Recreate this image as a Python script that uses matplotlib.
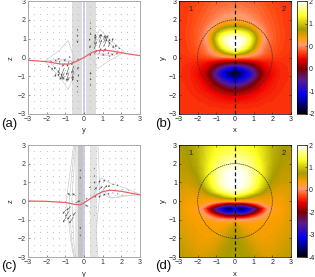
import numpy as np
import matplotlib
matplotlib.use("Agg")
import matplotlib.pyplot as plt
from matplotlib.cm import ScalarMappable
from matplotlib.colors import LinearSegmentedColormap, Normalize
from matplotlib.patches import Circle

W, H = 315, 277

# half of the map, mirrored in x later
half_x = [0, .25, .5, .75, 1, 1.25, 1.5, 1.75, 2, 2.5, 3]

b_y = [3, 2.5, 2, 1.75, 1.5, 1.25, 1, .75, .5, .25, 0, -.25, -.5, -.75, -1, -1.25, -1.5, -1.75, -2, -2.5, -3]
b_vals = [
    [.28, .28, .27, .26, .25, .24, .22, .20, .18, .14, .12],
    [.36, .36, .34, .32, .30, .28, .25, .22, .20, .15, .12],
    [.50, .50, .48, .42, .38, .33, .28, .25, .22, .16, .12],
    [.75, .75, .7, .58, .47, .38, .32, .26, .23, .16, .12],
    [1.2, 1.18, 1.1, .95, .75, .5, .38, .28, .24, .17, .12],
    [1.7, 1.65, 1.55, 1.35, 1.05, .7, .42, .3, .25, .17, .12],
    [2, 1.95, 1.85, 1.6, 1.2, .8, .45, .32, .25, .17, .12],
    [2, 1.95, 1.8, 1.5, 1.1, .72, .42, .3, .24, .16, .12],
    [1.95, 1.75, 1.55, 1.25, .9, .55, .36, .27, .22, .16, .12],
    [1.3, 1.15, 1, .75, .55, .4, .3, .24, .2, .14, .12],
    [.3, .3, .28, .26, .24, .22, .18, .16, .14, .12, .11],
    [-.45, -.42, -.4, -.3, -.2, -.12, -.03, .02, .05, .09, .11],
    [-1.2, -1.1, -.98, -.82, -.62, -.38, -.16, -.05, .01, .08, .1],
    [-1.9, -1.75, -1.5, -1.2, -.9, -.6, -.3, -.12, -.02, .07, .1],
    [-1.85, -1.7, -1.45, -1.2, -.9, -.6, -.3, -.12, -.02, .07, .1],
    [-1.3, -1.2, -1.08, -.9, -.65, -.4, -.18, -.06, .01, .08, .1],
    [-.85, -.8, -.7, -.55, -.38, -.22, -.08, -.01, .03, .09, .1],
    [-.5, -.45, -.38, -.28, -.18, -.08, -.02, .02, .05, .09, .11],
    [-.12, -.12, -.1, -.06, -.03, .01, .04, .06, .07, .1, .11],
    [.06, .06, .07, .07, .08, .08, .09, .1, .1, .11, .12],
    [.12, .12, .12, .12, .12, .12, .12, .12, .12, .12, .12],
]

d_y = [3, 2.5, 2, 1.5, 1, .75, .5, .25, 0, -.2, -.4, -.6, -.8, -1, -1.25, -1.5, -2, -2.5, -3]
d_vals = [
    [1.25, 1.25, 1.22, 1.18, 1.12, 1.05, .92, .78, .64, .5, .42],
    [1.45, 1.45, 1.42, 1.35, 1.25, 1.12, .98, .8, .64, .47, .4],
    [1.75, 1.72, 1.65, 1.55, 1.4, 1.22, 1.02, .8, .6, .43, .38],
    [2, 1.95, 1.88, 1.75, 1.55, 1.3, 1.05, .76, .52, .37, .34],
    [2, 1.98, 1.9, 1.75, 1.5, 1.22, .92, .62, .4, .28, .28],
    [1.95, 1.9, 1.8, 1.62, 1.38, 1.1, .78, .48, .3, .2, .24],
    [1.75, 1.65, 1.5, 1.3, 1.05, .75, .48, .3, .2, .14, .2],
    [1.1, .95, .8, .55, .35, .22, .16, .12, .1, .08, .18],
    [-.3, -.25, -.2, -.15, -.1, -.05, 0, .03, .05, .06, .16],
    [-1.8, -2.2, -2, -1.6, -1.2, -.8, -.4, -.15, -.05, .04, .15],
    [-3.1, -3.95, -3.6, -3, -2.5, -1.8, -1.1, -.5, -.15, .02, .15],
    [-2.6, -3.1, -3, -2.5, -2, -1.4, -.8, -.35, -.1, .03, .15],
    [-1.6, -1.7, -1.6, -1.3, -.95, -.65, -.35, -.15, -.02, .05, .16],
    [-.4, -.45, -.42, -.38, -.28, -.18, -.08, -.02, .02, .07, .18],
    [.2, .06, .02, 0, 0, 0, .02, .03, .05, .1, .2],
    [.35, .25, .12, .05, .03, .03, .04, .05, .07, .13, .22],
    [.48, .42, .3, .2, .12, .08, .07, .08, .1, .18, .28],
    [.5, .48, .42, .35, .25, .18, .15, .14, .16, .24, .32],
    [.52, .5, .47, .42, .35, .3, .25, .22, .24, .3, .36],
]

cb_b_labels = ["2", "1", "0", "0", "-1", "-2"]
cb_b_ticks = [2, 1.2, .4, -.4, -1.2, -2]
cb_d_labels = ["2", "1", "0", "-2", "-3", "-4"]
cb_d_ticks = [2, .8, -.4, -1.6, -2.8, -4]

# red curves
a_curve_y = [-3, -2.5, -2, -1.6, -1.2, -.8, -.6, -.4, -.2, 0, .2, .4, .6, .8, 1.2, 1.6, 2, 2.5, 3]
a_curve_z = [-.15, -.18, -.22, -.29, -.35, -.35, -.29, -.2, -.1, 0, .13, .25, .33, .37, .38, .33, .25, .17, .1]
c_curve_y = [-3, -2, -1, -.5, -.2, 0, .3, .7, 1, 1.4, 2, 2.5, 3]
c_curve_z = [0, -.02, -.08, -.18, -.2, -.1, .1, .35, .5, .58, .52, .42, .33]

# arrows, tail position + direction
a_ay = [.3, .3, .3, .55, .55, .55, .55, .8, .8, .8, .8, 1.05, 1.05, 1.05, 1.05, 1.3, 1.3, 1.3, 1.55, 1.55, 1.8,
        1.2, 1.5, 1.7, 1.9, 1.05, .8, 1.4, .35, .35, .35, .35, .35, .35,
        -.3, -.3, -.3, -.55, -.55, -.55, -.55, -.8, -.8, -.8, -.8, -1.05, -1.05, -1.05, -1.05, -1.3, -1.3, -1.3, -1.55, -1.55, -1.8,
        -1.2, -1.5, -1.7, -1.9, -1.05, -.8, -1.4, -.35, -.35, -.35, -.35, -.35, -.35]
a_az = [.1, .5, .9, .2, .45, .7, 1.0, .2, .5, .8, 1.05, .3, .55, .8, 1.0, .2, .55, .8, .15, .5, .2,
        .95, .85, .55, .45, .1, -.05, .05, -1.5, -1.2, -.9, 1.2, 1.5, 1.8,
        -.1, -.5, -.9, -.2, -.45, -.7, -1.0, -.2, -.5, -.8, -1.05, -.3, -.55, -.8, -1.0, -.2, -.55, -.8, -.15, -.5, -.2,
        -.95, -.85, -.55, -.45, -.1, .05, -.05, 1.5, 1.2, .9, -1.2, -1.5, -1.8]
a_au = [.08, .05, 0, .15, .12, .1, .08, .12, .15, .15, .1, .12, .18, .15, .1, .02, .1, .1, -.1, .03, -.1,
        .1, .06, .02, -.03, -.05, -.08, -.08, 0, 0, 0, 0, 0, 0,
        -.08, -.05, 0, -.15, -.12, -.1, -.08, -.12, -.15, -.15, -.1, -.12, -.18, -.15, -.1, -.02, -.1, -.1, .1, -.03, .1,
        -.1, -.06, -.02, .03, .05, .08, .08, 0, 0, 0, 0, 0, 0]
a_av = [.1, .15, .12, .2, .4, .45, .25, .3, .45, .45, .2, .2, .45, .35, .2, .1, .3, .2, .05, .15, .02,
        .25, .2, .15, .1, .12, .08, .05, .1, .12, .14, .12, .1, .08,
        -.1, -.15, -.12, -.2, -.4, -.45, -.25, -.3, -.45, -.45, -.2, -.2, -.45, -.35, -.2, -.1, -.3, -.2, -.05, -.15, -.02,
        -.25, -.2, -.15, -.1, -.12, -.08, -.05, -.1, -.12, -.14, -.12, -.1, -.08]

c_ay = [.3, .55, .55, .55, .8, .8, .8, 1.05, 1.05, 1.05, 1.3, 1.3, 1.3, 1.55, 1.55, 1.8, 1.8, 2.1, 2.1, .3, .3,
        -.2, -.2, -.2, -.2, -.45, -.45, -.45, -.7, -.7, -.7, -.95, -.95, .1, .05,
        -.2, -.2, -.2, -.2, .55, .55, .55, .55, -.55, -.8, 2.4, 2.7]
c_az = [.7, .2, .6, .95, .2, .6, 1.0, .3, .65, 1.05, .35, .75, 1.05, .4, .85, .35, .8, .3, .6, -.6, -1.2,
        .8, .4, -.4, -1.0, .3, -.1, -.6, .3, -.3, -.75, -.45, -.85, .1, -.2,
        1.2, 1.6, -1.4, -1.8, 1.3, 1.7, -.3, -.8, -.85, -.55, .55, .45]
c_au = [.05, .1, .15, .05, .1, .2, .08, .1, .2, .08, .05, .08, .04, 0, .02, 0, -.02, -.05, -.03, 0, 0,
        -.03, -.05, 0, 0, -.2, .25, -.15, -.2, -.25, -.2, -.2, -.18, .1, .18,
        0, 0, 0, 0, .02, .01, 0, 0, -.25, -.22, -.03, -.02]
c_av = [.1, .1, .15, .12, .1, .2, .12, .1, .2, .1, .1, .12, .06, .08, .1, .08, .1, .05, .06, .05, .05,
        .03, .03, -.03, -.03, .1, .12, -.2, .12, -.2, -.25, -.25, -.3, .05, -.1,
        .12, .1, -.12, -.1, .1, .08, .05, .05, -.35, -.3, .05, .04]

# outlines around the lobes
a_lines = [
    ([.35, .85, 1.25, 2.15, 1.5, .55], [.55, 1.5, 1.05, .3, .1, .15]),
    ([.45, .9, 1.2, 1.85, 1.4, .6], [.5, 1.2, .95, .3, .18, .2]),
    ([-.35, -.85, -1.25, -2.1, -1.5, -.55], [-.55, -1.7, -1.1, -.2, -.1, -.15]),
    ([-.45, -.9, -1.2, -1.8, -1.4, -.6], [-.5, -1.3, -.95, -.28, -.18, -.2]),
    ([-.5, -.85, -1.3, -2.1], [-.1, .9, .4, -.2]),
    ([.5, .7, 1.3, 2.1], [-.1, -.6, -.2, .25]),
]
c_lines = [
    ([-.55, -.95, -.7, -.55], [3, 0, -2.2, -3]),
    ([-.5, -.8, -.65, -.5], [3, 0, -2.2, -3]),
    ([-.45, -.65, -.55, -.45], [3, .1, -2.2, -3]),
    ([.75, .85, .65, .75], [3, .4, -1.6, -3]),
    ([.5, .9, 1.4, 2.2, 3], [.3, 1.25, .95, .7, .35]),
    ([.8, 1.0, 1.5, 2.3, 3], [.2, .6, .15, .3, .33]),
    ([1.0, 1.3, 1.8, 2.6], [.45, .2, .2, .32]),
]

dot_pos = [-3 + i * 0.333 for i in range(19)]

cmap = LinearSegmentedColormap.from_list("bb", [
    (0, "#000000"), (.17, "#0000f0"), (.3, "#5a1a90"), (.4, "#7a0000"), (.49, "#f00000"),
    (.55, "#ff4a10"), (.61, "#ff9a70"), (.67, "#ffa000"), (.75, "#a89a00"),
    (.87, "#ffff20"), (1, "#ffffff")])


def ax_px(l, t, r, b):
    return fig.add_axes([l / W, 1 - b / H, (r - l) / W, (b - t) / H])


def txt(x, y, s, **kw):
    fig.text(x / W, 1 - y / H, s, ha="center", va="center", **kw)


def vec_panel(ax, curve_y, curve_z, ay, az, au, av, lines, bands):
    for lo, hi, col in bands:
        ax.axvspan(lo, hi, color=col, lw=0, zorder=1)
    ax.axvspan(-.05, .05, color="#ccccf2", lw=0, zorder=1)
    gy, gz = np.meshgrid(dot_pos, dot_pos)
    ax.scatter(gy.ravel(), gz.ravel(), s=.6, color="#bbbbbb", lw=0, zorder=2)
    for ly, lz in lines:
        ax.plot(ly, lz, color="#cccccc", lw=.5, zorder=2)
    ax.quiver(ay, az, au, av, angles="xy", scale_units="xy", scale=1, color="#444444",
              width=.0045, headwidth=4, headlength=5, headaxislength=4, minlength=.5, zorder=3)
    ax.plot(curve_y, curve_z, color="#e8606a", lw=.9, zorder=4)
    ax.set_xlim(-3, 3)
    ax.set_ylim(-3, 3)
    ax.set_xticks(range(-3, 4))
    ax.set_yticks(range(-3, 4))
    ax.tick_params(labelsize=5, length=1.5, width=.4, pad=1.5, direction="in", colors="#333333")
    for s in ax.spines.values():
        s.set_color("#aaaaaa")
        s.set_linewidth(.7)


def map_panel(ax, cax, y, vals, vmin, vmax, cticks, clabels):
    half = np.array(vals)
    full = np.hstack([half[:, :0:-1], half])
    x = [-v for v in half_x[:0:-1]] + half_x
    levels = np.linspace(vmin, vmax, 129)
    ax.contourf(x, y, full, levels=levels, cmap=cmap, vmin=vmin, vmax=vmax, extend="both")
    ax.add_patch(Circle((0, 0), 2, fill=False, ec="#333333", lw=.5, ls=(0, (2, 1))))
    ax.plot([0, 0], [-3, 3], color="#111111", lw=.9, ls=(0, (3, 2)))
    ax.set_xlim(-3, 3)
    ax.set_ylim(-3, 3)
    ax.set_xticks(range(-3, 4))
    ax.set_yticks(range(-3, 4))
    ax.tick_params(labelsize=5, length=1.5, width=.4, pad=1.5, direction="in", colors="#222222",
                   top=True, right=True)
    for s in ax.spines.values():
        s.set_linewidth(.5)
    ax.text(-2.4, 2.55, "1", fontsize=5.5, ha="center", va="center", color="#222222")
    ax.text(2.6, 2.55, "2", fontsize=5.5, ha="center", va="center", color="#222222")
    cb = fig.colorbar(ScalarMappable(Normalize(vmin, vmax), cmap), cax=cax)
    cb.set_ticks(cticks)
    cb.set_ticklabels(clabels)
    cb.ax.tick_params(labelsize=5, length=1.5, width=.4, pad=1, direction="in", colors="#222222")
    cb.outline.set_linewidth(.5)


plt.rcParams["font.family"] = ["Liberation Sans", "DejaVu Sans"]
fig = plt.figure(figsize=(W / 100, H / 100), dpi=100)

ax_a = ax_px(28, 1, 140, 114)
ax_b = ax_px(179, 1, 291, 114)
cax_b = ax_px(297, 1, 307, 114)
ax_c = ax_px(28, 145, 140, 257)
ax_d = ax_px(179, 145, 291, 257)
cax_d = ax_px(297, 145, 307, 257)

vec_panel(ax_a, a_curve_y, a_curve_z, a_ay, a_az, a_au, a_av, a_lines,
          [(-.65, -.12, "#dedede"), (.12, .62, "#dedede")])
vec_panel(ax_c, c_curve_y, c_curve_z, c_ay, c_az, c_au, c_av, c_lines,
          [(-.32, -.05, "#c4c4c4"), (-.5, -.32, "#e8e8e8"), (.3, .7, "#e4e4e4")])
map_panel(ax_b, cax_b, b_y, b_vals, -2, 2, cb_b_ticks, cb_b_labels)
map_panel(ax_d, cax_d, d_y, d_vals, -4, 2, cb_d_ticks, cb_d_labels)

txt(84, 130, "y", fontsize=5.5, color="#333333")
txt(84, 274, "y", fontsize=5.5, color="#333333")
txt(235, 130, "x", fontsize=5.5, color="#222222")
txt(235, 274, "x", fontsize=5.5, color="#222222")
txt(11, 58, "z", fontsize=5.5, rotation=90, color="#333333")
txt(11, 201, "z", fontsize=5.5, rotation=90, color="#333333")
txt(163, 58, "y", fontsize=5.5, rotation=90, color="#222222")
txt(163, 201, "y", fontsize=5.5, rotation=90, color="#222222")

txt(9, 124, "(a)", fontsize=9.5, color="#111111")
txt(163, 124, "(b)", fontsize=9.5, color="#111111")
txt(9, 266, "(c)", fontsize=9.5, color="#111111")
txt(163, 266, "(d)", fontsize=9.5, color="#111111")

fig.savefig("out.png", dpi=100)
